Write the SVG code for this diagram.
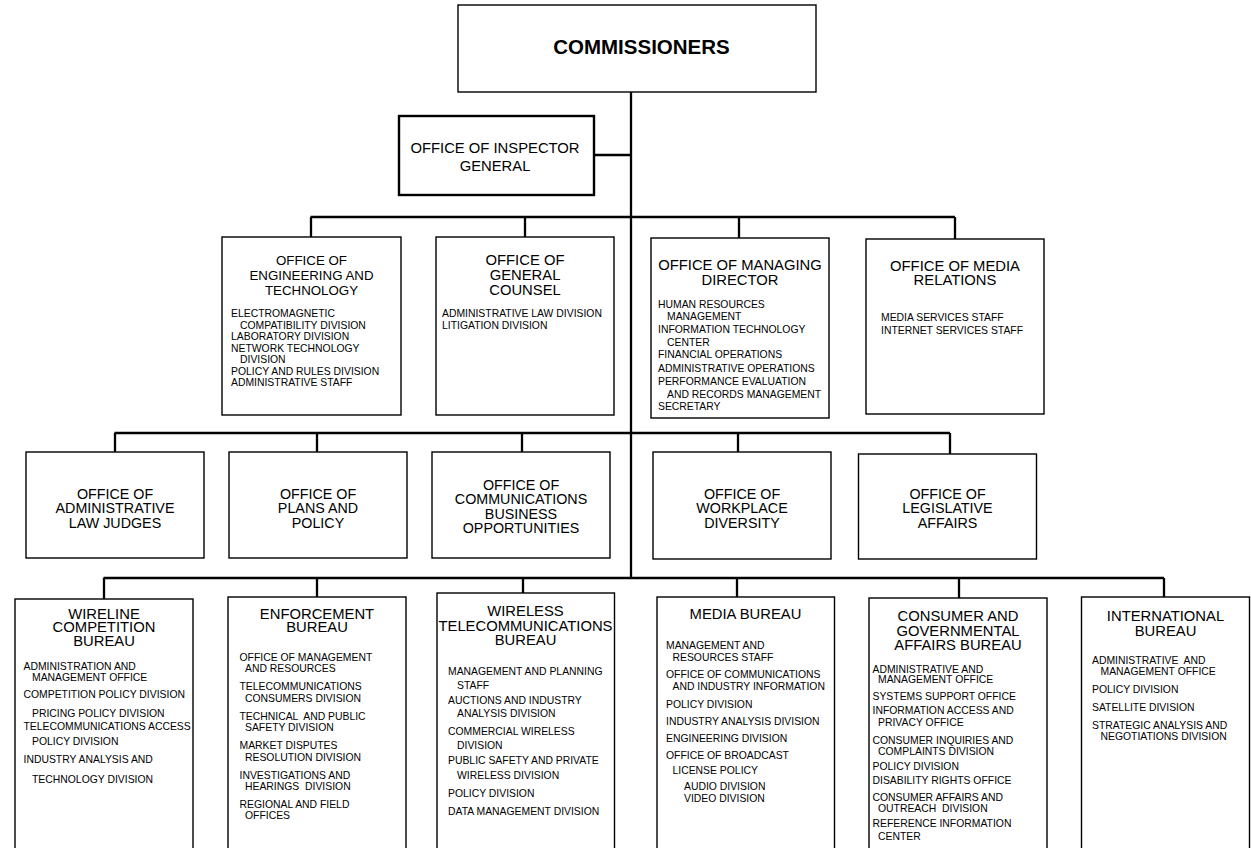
<svg xmlns="http://www.w3.org/2000/svg" width="1251" height="848" viewBox="0 0 1251 848">
<style>
text{font-family:"Liberation Sans",Arial,sans-serif;fill:#000;white-space:pre}
.box{fill:#fff;stroke:#000;stroke-width:1.4}
.thick{fill:#fff;stroke:#000;stroke-width:2.4}
.t{font-size:14.8px;text-anchor:middle}
.t3{font-size:14.3px;text-anchor:middle}
.ts{font-size:13.3px;text-anchor:middle}
.i{font-size:10.4px}
.cmd{font-size:20.5px;font-weight:bold;text-anchor:middle}
#connectors path{fill:none;stroke:#000;stroke-width:2.3}
</style>
<rect width="1251" height="848" fill="#fff"/>
<g id="connectors">
<path d="M631,92 V578"/>
<path d="M594,155 H631"/>
<path d="M310.5,217 H955 M311,217 V237 M525,217 V237 M739,217 V238 M955,217 V239"/>
<path d="M114.5,433 H950 M115,433 V452 M317,433 V452 M522,433 V452 M738,433 V452 M950,433 V454"/>
<path d="M103.5,578 H1164 M104,578 V599 M317,578 V597 M523,578 V593 M737,578 V597 M959,578 V598 M1164,578 V597"/>
</g>
<g id="commissioners">
<rect class="box" x="458" y="5" width="358" height="87" stroke-width="1.8"/>
<text class="cmd" x="641.5" y="54">COMMISSIONERS</text>
</g>
<g id="inspector-general">
<rect class="thick" x="399" y="116" width="195" height="79"/>
<text class="t" x="495" y="153">OFFICE OF INSPECTOR</text>
<text class="t" x="495" y="171">GENERAL</text>
</g>
<g id="engineering">
<rect class="box" x="222" y="237" width="179" height="178"/>
<text class="ts" x="311.5" y="265">OFFICE OF</text>
<text class="ts" x="311.5" y="280">ENGINEERING AND</text>
<text class="ts" x="311.5" y="295">TECHNOLOGY</text>
<text class="i" x="231" y="317">ELECTROMAGNETIC</text>
<text class="i" x="240" y="328.5">COMPATIBILITY DIVISION</text>
<text class="i" x="231" y="340">LABORATORY DIVISION</text>
<text class="i" x="231" y="351.5">NETWORK TECHNOLOGY</text>
<text class="i" x="240" y="363">DIVISION</text>
<text class="i" x="231" y="374.5">POLICY AND RULES DIVISION</text>
<text class="i" x="231" y="386">ADMINISTRATIVE STAFF</text>
</g>
<g id="general-counsel">
<rect class="box" x="436" y="237" width="178" height="178"/>
<text class="t" x="525" y="265">OFFICE OF</text>
<text class="t" x="525" y="280">GENERAL</text>
<text class="t" x="525" y="295">COUNSEL</text>
<text class="i" x="442" y="317">ADMINISTRATIVE LAW DIVISION</text>
<text class="i" x="442" y="328.5">LITIGATION DIVISION</text>
</g>
<g id="managing-director">
<rect class="box" x="651" y="238" width="178" height="180"/>
<text class="t" x="740" y="270">OFFICE OF MANAGING</text>
<text class="t" x="740" y="284.5">DIRECTOR</text>
<text class="i" x="658" y="307.5">HUMAN RESOURCES</text>
<text class="i" x="667" y="320">MANAGEMENT</text>
<text class="i" x="658" y="333">INFORMATION TECHNOLOGY</text>
<text class="i" x="667" y="346">CENTER</text>
<text class="i" x="658" y="358">FINANCIAL OPERATIONS</text>
<text class="i" x="658" y="371.5">ADMINISTRATIVE OPERATIONS</text>
<text class="i" x="658" y="384.5">PERFORMANCE EVALUATION</text>
<text class="i" x="667" y="397.5">AND RECORDS MANAGEMENT</text>
<text class="i" x="658" y="410">SECRETARY</text>
</g>
<g id="media-relations">
<rect class="box" x="866" y="239" width="178" height="175"/>
<text class="t" x="955" y="271">OFFICE OF MEDIA</text>
<text class="t" x="955" y="285">RELATIONS</text>
<text class="i" x="881" y="321">MEDIA SERVICES STAFF</text>
<text class="i" x="881" y="333.5">INTERNET SERVICES STAFF</text>
</g>
<g id="admin-law-judges">
<rect class="box" x="26" y="452" width="178" height="106"/>
<text class="t3" x="115" y="498.5">OFFICE OF</text>
<text class="t3" x="115" y="513">ADMINISTRATIVE</text>
<text class="t3" x="115" y="527.5">LAW JUDGES</text>
</g>
<g id="plans-policy">
<rect class="box" x="229" y="452" width="178" height="106"/>
<text class="t3" x="318" y="498.5">OFFICE OF</text>
<text class="t3" x="318" y="513">PLANS AND</text>
<text class="t3" x="318" y="527.5">POLICY</text>
</g>
<g id="communications-business">
<rect class="box" x="432" y="452" width="178" height="106"/>
<text class="t3" x="521" y="489.5">OFFICE OF</text>
<text class="t3" x="521" y="504">COMMUNICATIONS</text>
<text class="t3" x="521" y="518.5">BUSINESS</text>
<text class="t3" x="521" y="533">OPPORTUNITIES</text>
</g>
<g id="workplace-diversity">
<rect class="box" x="653" y="452" width="178" height="107"/>
<text class="t3" x="742" y="498.5">OFFICE OF</text>
<text class="t3" x="742" y="513">WORKPLACE</text>
<text class="t3" x="742" y="527.5">DIVERSITY</text>
</g>
<g id="legislative-affairs">
<rect class="box" x="858.5" y="454" width="178" height="105"/>
<text class="t3" x="947.5" y="498.5">OFFICE OF</text>
<text class="t3" x="947.5" y="513">LEGISLATIVE</text>
<text class="t3" x="947.5" y="527.5">AFFAIRS</text>
</g>
<g id="wireline">
<rect class="box" x="15" y="599" width="178" height="260"/>
<text class="t" x="104" y="618.5">WIRELINE</text>
<text class="t" x="104" y="632">COMPETITION</text>
<text class="t" x="104" y="645.5">BUREAU</text>
<text class="i" x="23.5" y="670">ADMINISTRATION AND</text>
<text class="i" x="32" y="681">MANAGEMENT OFFICE</text>
<text class="i" x="23.5" y="698">COMPETITION POLICY DIVISION</text>
<text class="i" x="32" y="716.5">PRICING POLICY DIVISION</text>
<text class="i" x="23.5" y="730">TELECOMMUNICATIONS ACCESS</text>
<text class="i" x="32" y="745">POLICY DIVISION</text>
<text class="i" x="23.5" y="763">INDUSTRY ANALYSIS AND</text>
<text class="i" x="32" y="783">TECHNOLOGY DIVISION</text>
</g>
<g id="enforcement">
<rect class="box" x="228" y="597" width="178" height="260"/>
<text class="t" x="317" y="618.5">ENFORCEMENT</text>
<text class="t" x="317" y="632">BUREAU</text>
<text class="i" x="239.5" y="660.5">OFFICE OF MANAGEMENT</text>
<text class="i" x="245" y="671.5">AND RESOURCES</text>
<text class="i" x="239.5" y="690">TELECOMMUNICATIONS</text>
<text class="i" x="245" y="701.5">CONSUMERS DIVISION</text>
<text class="i" x="239.5" y="719.5">TECHNICAL  AND PUBLIC</text>
<text class="i" x="245" y="730.5">SAFETY DIVISION</text>
<text class="i" x="239.5" y="749">MARKET DISPUTES</text>
<text class="i" x="245" y="760.5">RESOLUTION DIVISION</text>
<text class="i" x="239.5" y="778.5">INVESTIGATIONS AND</text>
<text class="i" x="245" y="790">HEARINGS  DIVISION</text>
<text class="i" x="239.5" y="807.5">REGIONAL AND FIELD</text>
<text class="i" x="245" y="819">OFFICES</text>
</g>
<g id="wireless">
<rect class="box" x="437" y="593" width="177.5" height="264"/>
<text class="t" x="525.5" y="616">WIRELESS</text>
<text class="t" x="525.5" y="630.5">TELECOMMUNICATIONS</text>
<text class="t" x="525.5" y="645">BUREAU</text>
<text class="i" x="448" y="674.5">MANAGEMENT AND PLANNING</text>
<text class="i" x="457" y="688.5">STAFF</text>
<text class="i" x="448" y="703.5">AUCTIONS AND INDUSTRY</text>
<text class="i" x="457" y="716.5">ANALYSIS DIVISION</text>
<text class="i" x="448" y="735">COMMERCIAL WIRELESS</text>
<text class="i" x="457" y="748.5">DIVISION</text>
<text class="i" x="448" y="763.5">PUBLIC SAFETY AND PRIVATE</text>
<text class="i" x="457" y="778.5">WIRELESS DIVISION</text>
<text class="i" x="448" y="796.5">POLICY DIVISION</text>
<text class="i" x="448" y="814.5">DATA MANAGEMENT DIVISION</text>
</g>
<g id="media-bureau">
<rect class="box" x="657" y="597" width="177.5" height="260"/>
<text class="t" x="745.5" y="619">MEDIA BUREAU</text>
<text class="i" x="666" y="648.5">MANAGEMENT AND</text>
<text class="i" x="672.5" y="660.5">RESOURCES STAFF</text>
<text class="i" x="666" y="677.5">OFFICE OF COMMUNICATIONS</text>
<text class="i" x="672.5" y="690">AND INDUSTRY INFORMATION</text>
<text class="i" x="666" y="707.5">POLICY DIVISION</text>
<text class="i" x="666" y="725">INDUSTRY ANALYSIS DIVISION</text>
<text class="i" x="666" y="741.5">ENGINEERING DIVISION</text>
<text class="i" x="666" y="758.5">OFFICE OF BROADCAST</text>
<text class="i" x="672.5" y="773.5">LICENSE POLICY</text>
<text class="i" x="684" y="790">AUDIO DIVISION</text>
<text class="i" x="684" y="801.5">VIDEO DIVISION</text>
</g>
<g id="consumer-governmental">
<rect class="box" x="869" y="598" width="178" height="260"/>
<text class="t" x="958" y="621">CONSUMER AND</text>
<text class="t" x="958" y="635.5">GOVERNMENTAL</text>
<text class="t" x="958" y="650">AFFAIRS BUREAU</text>
<text class="i" x="872.5" y="672.5">ADMINISTRATIVE AND</text>
<text class="i" x="878" y="682.5">MANAGEMENT OFFICE</text>
<text class="i" x="872.5" y="699.5">SYSTEMS SUPPORT OFFICE</text>
<text class="i" x="872.5" y="714">INFORMATION ACCESS AND</text>
<text class="i" x="878" y="725.5">PRIVACY OFFICE</text>
<text class="i" x="872.5" y="743.5">CONSUMER INQUIRIES AND</text>
<text class="i" x="878" y="754.5">COMPLAINTS DIVISION</text>
<text class="i" x="872.5" y="769.5">POLICY DIVISION</text>
<text class="i" x="872.5" y="783.5">DISABILITY RIGHTS OFFICE</text>
<text class="i" x="872.5" y="800.5">CONSUMER AFFAIRS AND</text>
<text class="i" x="878" y="812">OUTREACH  DIVISION</text>
<text class="i" x="872.5" y="826.5">REFERENCE INFORMATION</text>
<text class="i" x="878" y="840">CENTER</text>
</g>
<g id="international">
<rect class="box" x="1081.5" y="597" width="168" height="260"/>
<text class="t" x="1165.5" y="621">INTERNATIONAL</text>
<text class="t" x="1165.5" y="635.5">BUREAU</text>
<text class="i" x="1092" y="663.5">ADMINISTRATIVE  AND</text>
<text class="i" x="1100.5" y="675">MANAGEMENT OFFICE</text>
<text class="i" x="1092" y="692.5">POLICY DIVISION</text>
<text class="i" x="1092" y="711">SATELLITE DIVISION</text>
<text class="i" x="1092" y="728.5">STRATEGIC ANALYSIS AND</text>
<text class="i" x="1100.5" y="740">NEGOTIATIONS DIVISION</text>
</g>
</svg>
